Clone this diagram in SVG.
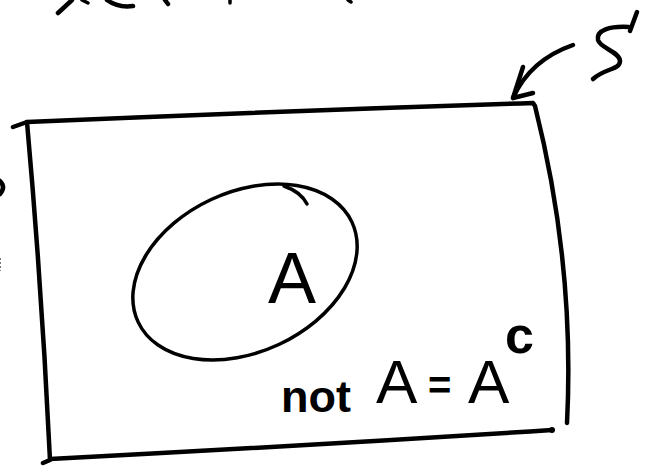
<svg xmlns="http://www.w3.org/2000/svg" width="658" height="468" viewBox="0 0 658 468">
  <style>
    .ink { fill: none; stroke: #000; stroke-linecap: round; stroke-linejoin: round; }
    .thick { stroke-width: 4.5; }
    .med { stroke-width: 3.5; }
    .hand { font-family: "Liberation Sans", "DejaVu Sans", sans-serif; fill: #000; }
  </style>
  <rect width="658" height="468" fill="#fff"/>

  <g id="top-fragments">
    <path class="ink thick" d="M58,13 L72,0"/>
    <path class="ink med" d="M82,0 L88,3"/>
    <path class="ink thick" d="M107,0 Q118,8 133,6"/>
    <path class="ink thick" d="M165,0 L168,4"/>
    <path class="ink med" d="M230,0 L230,3"/>
    <path class="ink med" d="M348,0 L351,2"/>
  </g>

  <g id="margin-marks">
    <path class="ink thick" d="M0,181 Q6,187 0,194"/>
    <path d="M0.5,258 L0.5,271" stroke="#777" stroke-width="1" stroke-dasharray="2 2"/>
  </g>

  <g id="set-S">
    <path class="ink thick" d="M13,127 L27,122 Q280,111 533,103 L535,106 Q575,265 567,423"/>
    <path class="ink thick" d="M27,122 Q42,290 50,460 L43,463"/>
    <path class="ink thick" d="M50,459 Q300,446 552,430"/>
    <circle cx="552" cy="430" r="3"/>
  </g>

  <g id="set-A">
    <ellipse class="ink med" cx="245" cy="272" rx="118" ry="80" transform="rotate(-25 245 272)"/>
    <path class="ink med" d="M284,186 Q301,192 307,204"/>
    <text class="hand" x="292" y="303" font-size="72" text-anchor="middle">A</text>
  </g>

  <g id="label-S">
    <path class="ink thick" d="M637,12 L630,31"/>
    <path class="ink thick" d="M629,27 C610,26 596,30 598,40 C600,48 620,52 620,61 C620,70 605,68 593,79"/>
  </g>

  <g id="connectors">
    <path class="ink thick" d="M573,45 Q530,60 513,98"/>
    <path class="ink thick" d="M523,67 L513,98 L533,93"/>
  </g>

  <g id="complement-label">
    <text class="hand" y="403"><tspan x="281" y="412" font-size="45" font-weight="bold">not</tspan><tspan x="376" y="403" font-size="62">A</tspan><tspan x="428" y="399" font-size="40" font-weight="bold">=</tspan><tspan x="468" y="403" font-size="62">A</tspan><tspan x="505" y="353" font-size="52" font-weight="bold">c</tspan></text>
  </g>
</svg>
